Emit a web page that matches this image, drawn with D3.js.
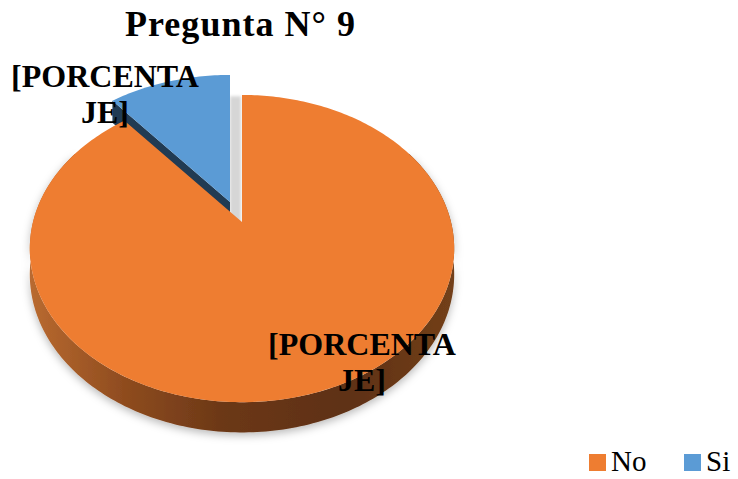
<!DOCTYPE html>
<html>
<head>
<meta charset="utf-8">
<script src="https://cdn.jsdelivr.net/npm/d3@7/dist/d3.min.js"></script>
<style>
html,body{margin:0;padding:0;background:#fff;}
svg{display:block;}
</style>
</head>
<body>
<script>
// ---- data ----
const title = "Pregunta N° 9";
const categories = ["No", "Si"];
const values = [89, 11];
const labelLines = ["[PORCENTA", "JE]"];

// ---- style / layout ----
const W = 738, H = 479;
const colors = {No: "#ee7d31", Si: "#5b9bd5"};
const faceColors = {Si: "#213b53"};
const geo = {cx: 242, cy: 222, R: 209, t: 0.713, p: 0.173, depth: 25};
const explode = {Si: [-12, -20], No: [0, 0]};
const labelPos = {Si: [105, 87], No: [362, 355]};
const font = "'Liberation Serif','Times New Roman',serif";

const svg = d3.select("body").append("svg").attr("width", W).attr("height", H);
const defs = svg.append("defs");

const grad = defs.append("linearGradient").attr("id", "sideGrad")
  .attr("gradientUnits", "userSpaceOnUse").attr("x1", 30).attr("x2", 455).attr("y1", 0).attr("y2", 0);
[[0, "#b96a30"], [0.22, "#8f4c1f"], [0.45, "#6c3817"], [0.75, "#5e3013"], [1, "#73401a"]]
  .forEach(([o, c]) => grad.append("stop").attr("offset", o).attr("stop-color", c));

const sh = defs.append("filter").attr("id", "shadow").attr("x", "-10%").attr("y", "-10%").attr("width", "120%").attr("height", "140%");
sh.append("feDropShadow").attr("dx", 0).attr("dy", 3).attr("stdDeviation", 4)
  .attr("flood-color", "#000").attr("flood-opacity", 0.28);
const bl = defs.append("filter").attr("id", "blur").attr("x", "-50%").attr("y", "-10%").attr("width", "200%").attr("height", "120%");
bl.append("feGaussianBlur").attr("stdDeviation", 1.6);

// perspective projection of a point on the pie disc (angle clockwise from 12 o'clock)
function proj(a, r, d = 0) {
  const u = Math.sin(a) * r, w = -Math.cos(a) * r;
  const s = 1 / (1 - geo.p * w);
  return [geo.cx + geo.R * u * s, geo.cy + geo.R * geo.t * w * s + d * s];
}
function arcPts(a0, a1, d) {
  const n = Math.max(2, Math.ceil(Math.abs(a1 - a0) / (Math.PI / 180)));
  return d3.range(n + 1).map(i => proj(a0 + (a1 - a0) * i / n, 1, d));
}
const line = d3.line();
const closed = pts => line(pts) + "Z";

const pie = d3.pie().sort(null).value(d => d.v);
const arcs = pie(categories.map((c, i) => ({c, v: values[i]})));
const byCat = {};
arcs.forEach(a => byCat[a.data.c] = a);

// --- exploded Si slice (behind) ---
const si = byCat.Si;
const gSi = svg.append("g").attr("transform", `translate(${explode.Si[0]},${explode.Si[1]})`);
{
  const o = proj(si.endAngle, 1, geo.depth), c = proj(0, 0, geo.depth - 2);
  gSi.append("path")
    .attr("d", closed([o, [o[0] + 11, o[1]], [c[0] + 11, c[1]], c]))
    .attr("fill", "#d6d6d6").attr("filter", "url(#blur)");
}
gSi.append("path")
  .attr("d", closed([proj(0, 0, 0), proj(si.startAngle, 1, 0), proj(si.startAngle, 1, geo.depth), proj(0, 0, geo.depth)]))
  .attr("fill", faceColors.Si);
gSi.append("path")
  .attr("d", closed([proj(0, 0, 0), ...arcPts(si.startAngle, si.endAngle, 0)]))
  .attr("fill", colors.Si);

// --- No slice ---
const no = byCat.No;
const w0 = Math.max(no.startAngle, Math.PI / 3), w1 = Math.min(no.endAngle, Math.PI * 5 / 3);
const wallPts = arcPts(w0, w1, 0).concat(arcPts(w0, w1, geo.depth).reverse());
svg.append("path").attr("d", closed(wallPts)).attr("fill", "url(#sideGrad)").attr("filter", "url(#shadow)");
svg.append("path").attr("d", closed([proj(0, 0, 0), ...arcPts(no.startAngle, no.endAngle, 0)]))
  .attr("fill", colors.No);

// --- data labels ---
categories.forEach(c => {
  const [x, y] = labelPos[c];
  const t = svg.append("text").attr("font-family", font).attr("font-weight", "bold")
    .attr("font-size", 32).attr("fill", "#000").attr("text-anchor", "middle");
  labelLines.forEach((ln, i) => {
    t.append("tspan").attr("x", x).attr("y", y + i * 36).text(ln);
  });
});

// --- title ---
svg.append("text").attr("x", 125).attr("y", 36)
  .attr("font-family", font).attr("font-weight", "bold").attr("font-size", 36)
  .attr("textLength", 230).attr("lengthAdjust", "spacing")
  .text(title);

// --- legend ---
const legX = [589, 684];
const lg = svg.append("g");
categories.forEach((c, i) => {
  lg.append("rect").attr("x", legX[i]).attr("y", 454).attr("width", 17).attr("height", 17).attr("fill", colors[c]);
  lg.append("text").attr("x", legX[i] + 22).attr("y", 471)
    .attr("font-family", font).attr("font-size", 29).attr("fill", "#000").text(c);
});
</script>
</body>
</html>
